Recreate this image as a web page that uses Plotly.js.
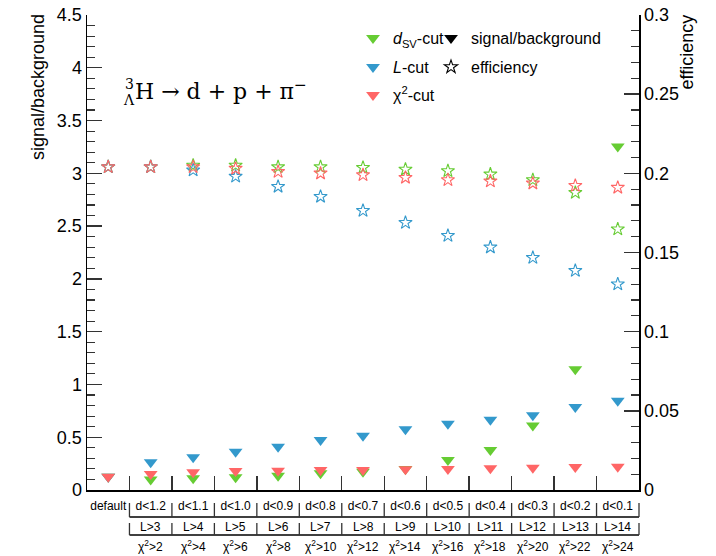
<!DOCTYPE html>
<html>
<head>
<meta charset="utf-8">
<script src="https://cdn.plot.ly/plotly-3.0.1.min.js"></script>
<style>html,body{margin:0;padding:0;background:#fff;}#chart{width:716px;height:556px;}</style>
</head>
<body>
<div id="chart"></div>
<script>
// ---- data ----
const cuts = ["default","d<1.2","d<1.1","d<1.0","d<0.9","d<0.8","d<0.7","d<0.6","d<0.5","d<0.4","d<0.3","d<0.2","d<0.1"];
const lCuts = ["L>3","L>4","L>5","L>6","L>7","L>8","L>9","L>10","L>11","L>12","L>13","L>14"];
const chi2Cuts = ["2","4","6","8","10","12","14","16","18","20","22","24"];

const sbDsv  = [0.125, 0.100, 0.111, 0.120, 0.136, 0.158, 0.174, 0.200, 0.284, 0.379, 0.610, 1.143, 3.255];
const sbL    = [0.125, 0.262, 0.310, 0.363, 0.410, 0.474, 0.515, 0.575, 0.628, 0.666, 0.707, 0.786, 0.846];
const sbChi2 = [0.125, 0.152, 0.168, 0.180, 0.183, 0.190, 0.190, 0.196, 0.199, 0.205, 0.211, 0.218, 0.221];

const effDsv  = [0.204, 0.204, 0.205, 0.205, 0.204, 0.204, 0.2036, 0.2025, 0.2015, 0.1994, 0.1958, 0.1878, 0.1647];
const effL    = [0.204, 0.204, 0.202, 0.198, 0.1916, 0.1853, 0.1764, 0.1688, 0.1606, 0.1533, 0.1467, 0.1385, 0.130];
const effChi2 = [0.204, 0.204, 0.204, 0.203, 0.201, 0.200, 0.199, 0.1973, 0.1958, 0.195, 0.1937, 0.1922, 0.191];

const sbTicks = [0, 0.5, 1, 1.5, 2, 2.5, 3, 3.5, 4, 4.5];
const effTicks = [0, 0.05, 0.1, 0.15, 0.2, 0.25, 0.3];
const effTickText = ["0", "0.05", "0.1", "0.15", "0.2", "0.25", "0.3"];

// ---- styles ----
const GREEN = "rgb(102,204,51)";
const BLUE = "rgb(51,153,204)";
const RED = "rgb(255,102,102)";
const SANS = "Liberation Sans, Arial, sans-serif";
const SERIF = "DejaVu Serif, serif";

const esc = s => s.replace(/&/g, "&amp;").replace(/</g, "&lt;").replace(/>/g, "&gt;");
const cats = cuts.map(esc);

function tri(y, color, name, legend, show) {
  return {x: cats, y: y, type: "scatter", mode: "markers", name: name, legend: legend,
    showlegend: show, yaxis: "y",
    marker: {symbol: "triangle-down", size: 12, color: color, line: {width: 0}}};
}
function star(y, color) {
  return {x: cats, y: y, type: "scatter", mode: "markers", showlegend: false, yaxis: "y2",
    marker: {symbol: "star-open", size: 10, color: color, line: {width: 1.1, color: color}}};
}

const traces = [
  star(effDsv, GREEN), star(effL, BLUE), star(effChi2, RED),
  tri(sbDsv, GREEN, "<i>d</i><sub>SV</sub>-cut", "legend", true),
  tri(sbL, BLUE, "<i>L</i>-cut", "legend3", true),
  tri(sbChi2, RED, "χ<sup>2</sup>-cut", "legend5", true),
  {x: [null], y: [null], type: "scatter", mode: "markers", name: "signal/background", legend: "legend2",
   marker: {symbol: "triangle-down", size: 12, color: "#000"}},
  {x: [null], y: [null], type: "scatter", mode: "markers", name: "efficiency", legend: "legend4", yaxis: "y2",
   marker: {symbol: "star-open", size: 10, color: "#000", line: {width: 1.1, color: "#000"}}}
];

// pixel helpers for paper coords (plot area 87..639 x 15..490)
const px = v => (v - 87) / 552;
const py = v => (490 - v) / 475;

function leg(xp, yp) {
  return {x: px(xp), y: py(yp), xanchor: "left", yanchor: "middle", orientation: "v",
    bgcolor: "rgba(0,0,0,0)", borderwidth: 0, font: {family: SANS, size: 16, color: "#000"},
    itemwidth: 30};
}

const nB = cuts.length;
const shapes = [];
// second and third label rows: bracket axes
[[517, 503], [535, 523]].forEach(([yl, yt]) => {
  shapes.push({type: "line", xref: "paper", yref: "paper", x0: 1 / nB, x1: 1, y0: py(yl), y1: py(yl),
    line: {color: "#000", width: 1.3}});
  for (let i = 1; i <= nB; i++) {
    shapes.push({type: "line", xref: "paper", yref: "paper", x0: i / nB, x1: i / nB, y0: py(yl), y1: py(yt),
      line: {color: "#333", width: 1.3}});
  }
});

const annotations = [];
lCuts.forEach((t, i) => annotations.push({x: i + 1, xref: "x", y: py(527), yref: "paper", text: esc(t),
  showarrow: false, xanchor: "center", yanchor: "middle", font: {family: SANS, size: 12, color: "#000"}}));
chi2Cuts.forEach((t, i) => annotations.push({x: i + 1, xref: "x", y: py(546), yref: "paper",
  text: "χ<sup>2</sup>&gt;" + t,
  showarrow: false, xanchor: "center", yanchor: "middle", font: {family: SANS, size: 12, color: "#000"}}));
annotations.push(
  {xref: "paper", yref: "paper", x: px(38), y: py(12), xanchor: "center", yanchor: "top", textangle: -90,
   text: "signal/background", showarrow: false, font: {family: SANS, size: 18, color: "#000"}},
  {xref: "paper", yref: "paper", x: px(686), y: py(13), xanchor: "center", yanchor: "top", textangle: -90,
   text: "efficiency", showarrow: false, font: {family: SANS, size: 18, color: "#000"}},
  {xref: "paper", yref: "paper", x: px(133), y: py(90), xanchor: "left", yanchor: "middle",
   text: "H → d + p + π<sup>−</sup>", showarrow: false, font: {family: SERIF, size: 22, color: "#000"}},
  {xref: "paper", yref: "paper", x: px(129), y: py(84), xanchor: "center", yanchor: "middle",
   text: "3", showarrow: false, font: {family: SERIF, size: 14, color: "#000"}},
  {xref: "paper", yref: "paper", x: px(129), y: py(100), xanchor: "center", yanchor: "middle",
   text: "Λ", showarrow: false, font: {family: SERIF, size: 14, color: "#000"}}
);

const layout = {
  width: 716, height: 556,
  margin: {l: 87, r: 77, t: 15, b: 66, pad: 0},
  paper_bgcolor: "#fff", plot_bgcolor: "#fff",
  font: {family: SANS, color: "#000"},
  xaxis: {type: "category", categoryorder: "array", categoryarray: cats, range: [-0.5, 12.5],
    tickson: "boundaries", ticks: "inside", ticklen: 14, tickwidth: 1.4, tickcolor: "#333",
    showline: true, linecolor: "#000", linewidth: 1.5, showgrid: false, zeroline: false, tickangle: 0,
    tickfont: {family: SANS, size: 12, color: "#000"}, ticklabelstandoff: 4, fixedrange: true},
  yaxis: {range: [0, 4.5], tickvals: sbTicks, ticks: "inside", ticklen: 15, tickwidth: 1.4, tickcolor: "#333",
    minor: {dtick: 0.1, ticks: "inside", ticklen: 8, tickwidth: 1.2, tickcolor: "#333", showgrid: false},
    showline: true, linecolor: "#000", linewidth: 1.5, showgrid: false, zeroline: false,
    tickfont: {family: SANS, size: 18, color: "#000"}},
  yaxis2: {range: [0, 0.3], overlaying: "y", side: "right", tickvals: effTicks, ticktext: effTickText,
    ticks: "inside", ticklen: 15, tickwidth: 1.4, tickcolor: "#333",
    minor: {dtick: 0.01, ticks: "inside", ticklen: 8, tickwidth: 1.2, tickcolor: "#333", showgrid: false},
    showline: true, linecolor: "#000", linewidth: 1.5, showgrid: false, zeroline: false,
    tickfont: {family: SANS, size: 18, color: "#000"}},
  legend: leg(353, 38),
  legend2: leg(431, 38),
  legend3: leg(353, 67),
  legend4: leg(431, 67),
  legend5: leg(353, 95),
  shapes: shapes,
  annotations: annotations,
  showlegend: true
};

Plotly.newPlot("chart", traces, layout, {displayModeBar: false, staticPlot: true});
</script>
</body>
</html>
